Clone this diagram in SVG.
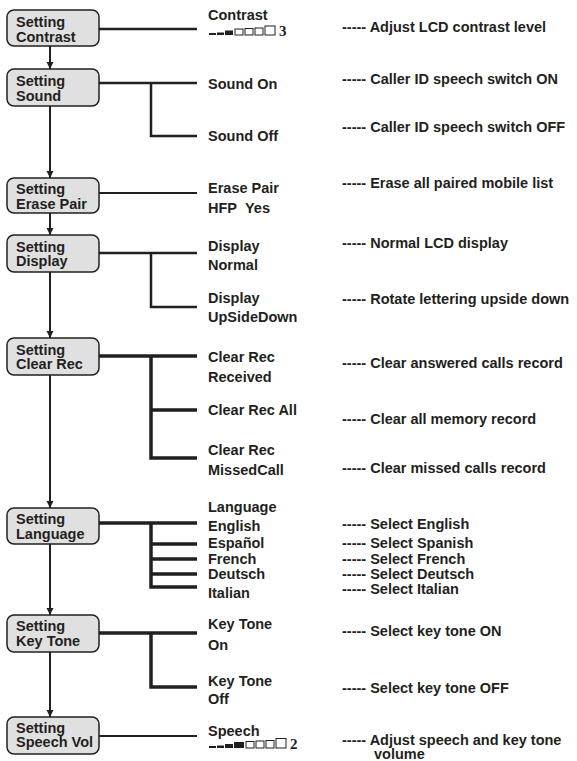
<svg xmlns="http://www.w3.org/2000/svg" width="577" height="761" viewBox="0 0 577 761">
<style>
text{font-family:"Liberation Sans",Arial,sans-serif;font-weight:bold;font-size:14.5px;fill:#231f20}
.box{fill:#e0e0e0;stroke:#231f20;stroke-width:1.5}
.c{fill:none;stroke:#231f20;stroke-linecap:butt}
.w2{stroke-width:2}
.w25{stroke-width:2.5}
.w35{stroke-width:3.5}
.arr{fill:none;stroke:#231f20;stroke-width:2}
.f{fill:#231f20}
.e{fill:#fff;stroke:#231f20;stroke-width:1}
.lvl{font-family:"Liberation Serif","Times New Roman",serif;font-weight:bold;font-size:15px}
</style>
<defs>
<marker id="ah" markerUnits="userSpaceOnUse" markerWidth="8" markerHeight="8" refX="7" refY="3.5" orient="auto">
<path d="M0,0 L7,3.5 L0,7 z" fill="#231f20"/>
</marker>
</defs>
<rect width="577" height="761" fill="#fff"/>
<g id="connectors">
<path class="c w25" d="M99,29 H197"/>
<path class="c w25" d="M99,83 H197 M151,83 V136 H197"/>
<path class="c w2" d="M99,193 H197"/>
<path class="c w25" d="M99,253 H197 M151,253 V307 H197"/>
<path class="c w35" d="M99,356 H197 M151,356 V458 H197 M151,410 H197"/>
<path class="c w35" d="M99,523 H197 M151,523 V587 H197 M151,544 H197 M151,559 H197 M151,574 H197"/>
<path class="c w35" d="M99,633 H197 M151,633 V687 H197"/>
<path class="c w2" d="M99,736 H197"/>
<path class="arr" marker-end="url(#ah)" d="M50,46 V69"/>
<path class="arr" marker-end="url(#ah)" d="M50,106 V178"/>
<path class="arr" marker-end="url(#ah)" d="M50,213 V235"/>
<path class="arr" marker-end="url(#ah)" d="M50,272 V338"/>
<path class="arr" marker-end="url(#ah)" d="M50,375 V508"/>
<path class="arr" marker-end="url(#ah)" d="M50,544 V615"/>
<path class="arr" marker-end="url(#ah)" d="M50,652 V717"/>
</g>
<g id="setting-contrast">
<rect class="box" x="7" y="10" width="92" height="36" rx="7"/>
<text x="16" y="26.5">Setting</text><text x="16" y="41.5">Contrast</text>
</g>
<g id="setting-sound">
<rect class="box" x="7" y="69" width="92" height="37" rx="7"/>
<text x="16" y="86">Setting</text><text x="16" y="100.5">Sound</text>
</g>
<g id="setting-erase-pair">
<rect class="box" x="7" y="178" width="92" height="35" rx="7"/>
<text x="16" y="194">Setting</text><text x="16" y="208.5">Erase Pair</text>
</g>
<g id="setting-display">
<rect class="box" x="7" y="235" width="92" height="37" rx="7"/>
<text x="16" y="251.5">Setting</text><text x="16" y="266">Display</text>
</g>
<g id="setting-clear-rec">
<rect class="box" x="7" y="338" width="92" height="37" rx="7"/>
<text x="16" y="354.5">Setting</text><text x="16" y="369">Clear Rec</text>
</g>
<g id="setting-language">
<rect class="box" x="7" y="508" width="92" height="36" rx="7"/>
<text x="16" y="523.5">Setting</text><text x="16" y="538.5">Language</text>
</g>
<g id="setting-key-tone">
<rect class="box" x="7" y="615" width="92" height="37" rx="7"/>
<text x="16" y="631">Setting</text><text x="16" y="646">Key Tone</text>
</g>
<g id="setting-speech-vol">
<rect class="box" x="7" y="717" width="92" height="37" rx="7"/>
<text x="16" y="732.5">Setting</text><text x="16" y="747">Speech Vol</text>
</g>
<g id="opt-contrast">
<text x="208" y="19.5">Contrast</text>
<rect class="f" x="209" y="33" width="7" height="2"/>
<rect class="f" x="217" y="32.5" width="7" height="2.5"/>
<rect class="f" x="225" y="30.5" width="8" height="4.5"/>
<rect class="e" x="235" y="29" width="8" height="6"/>
<rect class="e" x="245" y="28.5" width="8" height="6.5"/>
<rect class="e" x="255" y="28" width="8" height="7"/>
<rect class="e" x="265" y="26" width="10" height="9"/>
<text class="lvl" x="279" y="35.5">3</text>
</g>
<g id="opt-sound-on"><text x="208" y="89">Sound On</text></g>
<g id="opt-sound-off"><text x="208" y="141">Sound Off</text></g>
<g id="opt-erase-pair"><text x="208" y="192.5">Erase Pair</text><text x="208" y="213">HFP</text><text x="245" y="213">Yes</text></g>
<g id="opt-display-normal"><text x="208" y="251">Display</text><text x="208" y="270">Normal</text></g>
<g id="opt-display-upsidedown"><text x="208" y="303">Display</text><text x="208" y="322">UpSideDown</text></g>
<g id="opt-clear-received"><text x="208" y="362">Clear Rec</text><text x="208" y="382">Received</text></g>
<g id="opt-clear-all"><text x="208" y="414.5">Clear Rec All</text></g>
<g id="opt-clear-missed"><text x="208" y="455">Clear Rec</text><text x="208" y="475">MissedCall</text></g>
<g id="opt-language">
<text x="208" y="511.5">Language</text>
<text x="208" y="531">English</text>
<text x="208" y="548">Español</text>
<text x="208" y="563.5">French</text>
<text x="208" y="579">Deutsch</text>
<text x="208" y="597.5">Italian</text>
</g>
<g id="opt-keytone-on"><text x="208" y="629">Key Tone</text><text x="208" y="650">On</text></g>
<g id="opt-keytone-off"><text x="208" y="686">Key Tone</text><text x="208" y="704">Off</text></g>
<g id="opt-speech">
<text x="208" y="736">Speech</text>
<rect class="f" x="209" y="746" width="7" height="2"/>
<rect class="f" x="217" y="745.5" width="7" height="2.5"/>
<rect class="f" x="225" y="744" width="8" height="4"/>
<rect class="f" x="234" y="742" width="10" height="6"/>
<rect class="e" x="246" y="741.5" width="8" height="6.5"/>
<rect class="e" x="256" y="741" width="8" height="7"/>
<rect class="e" x="266" y="740.5" width="8" height="7.5"/>
<rect class="e" x="276" y="738.5" width="10" height="9.5"/>
<text class="lvl" x="290" y="748.5">2</text>
</g>
<g id="descriptions">
<text x="342" y="31.5">----- Adjust LCD contrast level</text>
<text x="342" y="83.5">----- Caller ID speech switch ON</text>
<text x="342" y="131.5">----- Caller ID speech switch OFF</text>
<text x="342" y="187.5">----- Erase all paired mobile list</text>
<text x="342" y="248">----- Normal LCD display</text>
<text x="342" y="304">----- Rotate lettering upside down</text>
<text x="342" y="367.5">----- Clear answered calls record</text>
<text x="342" y="424">----- Clear all memory record</text>
<text x="342" y="473">----- Clear missed calls record</text>
<text x="342" y="529">----- Select English</text>
<text x="342" y="547.5">----- Select Spanish</text>
<text x="342" y="564">----- Select French</text>
<text x="342" y="579">----- Select Deutsch</text>
<text x="342" y="594">----- Select Italian</text>
<text x="342" y="636">----- Select key tone ON</text>
<text x="342" y="692.5">----- Select key tone OFF</text>
<text x="342" y="744.5">----- Adjust speech and key tone</text>
<text x="374" y="759">volume</text>
</g>
</svg>
